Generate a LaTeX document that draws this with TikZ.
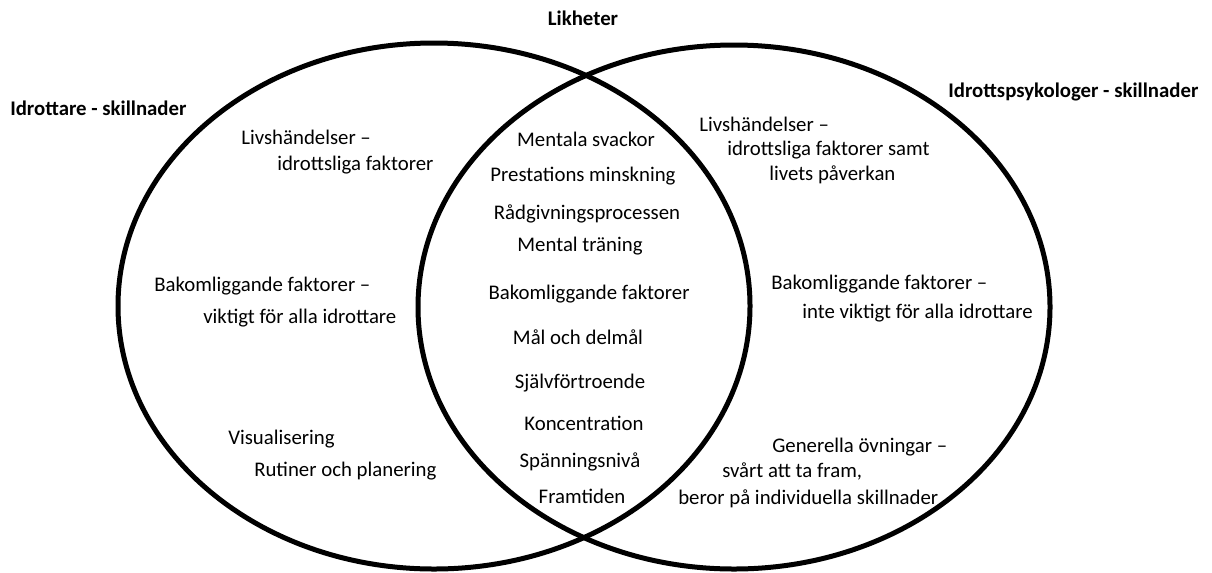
\documentclass[tikz,border=0pt]{standalone}
\usepackage{fontspec}
\setmainfont{Carlito}
\begin{document}
\begin{tikzpicture}[x=0.75pt,y=-0.75pt,
  lbl/.style={font=\fontsize{15.6}{18}\selectfont, inner sep=0pt, anchor=base west},
  ctr/.style={font=\fontsize{15.6}{18}\selectfont, inner sep=0pt, anchor=base},
  ttl/.style={font=\fontsize{15.6}{18}\selectfont\bfseries, inner sep=0pt},
  ring/.style={line width=3.75pt}]
\useasboundingbox[fill=white] (0,0) rectangle (1212,572);
% circles
\draw[ring] (434,306) ellipse [x radius=237pt, y radius=197.25pt];
\draw[ring] (734,307) ellipse [x radius=237pt, y radius=196.5pt];
% titles
\node[ttl, anchor=base] (lik) at (583,25) {Likheter};
\node[ttl, anchor=base west] (idr) at (10,115) {Idrottare - skillnader};
\node[ttl, anchor=base west] (psy) at (948,97) {Idrottspsykologer - skillnader};
% left
\node[lbl] (l1) at (241,144) {Livshändelser –};
\node[lbl] (l2) at (277,170) {idrottsliga faktorer};
\node[lbl] (l3) at (154,291) {Bakomliggande faktorer –};
\node[lbl] (l4) at (203,323) {viktigt för alla idrottare};
\node[lbl] (l5) at (228,444) {Visualisering};
\node[lbl] (l6) at (254,476) {Rutiner och planering};
% centre
\node[ctr] (c1) at (586,146) {Mentala svackor};
\node[ctr] (c2) at (583,181) {Prestations minskning};
\node[ctr] (c3) at (587,219) {Rådgivningsprocessen};
\node[ctr] (c4) at (580,251) {Mental träning};
\node[ctr] (c5) at (589,299) {Bakomliggande faktorer};
\node[ctr] (c6) at (578,344) {Mål och delmål};
\node[ctr] (c7) at (580,388) {Självförtroende};
\node[ctr] (c8) at (584,430) {Koncentration};
\node[ctr] (c9) at (580,467) {Spänningsnivå};
\node[ctr] (c10) at (582,503) {Framtiden};
% right
\node[lbl] (r1) at (699,131) {Livshändelser –};
\node[lbl] (r2) at (727,155) {idrottsliga faktorer samt};
\node[lbl] (r3) at (769,180) {livets påverkan};
\node[lbl] (r4) at (771,289) {Bakomliggande faktorer –};
\node[lbl] (r5) at (802,318) {inte viktigt för alla idrottare};
\node[lbl] (r6) at (772,452) {Generella övningar –};
\node[lbl] (r7) at (722,477) {svårt att ta fram,};
\node[lbl] (r8) at (678,504) {beror på individuella skillnader};
\end{tikzpicture}
\end{document}
